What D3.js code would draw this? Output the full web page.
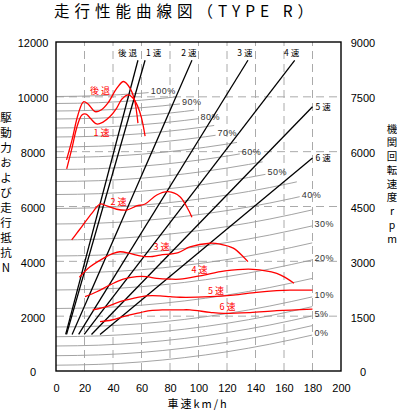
<!DOCTYPE html>
<html>
<head>
<meta charset="utf-8">
<style>
  body { margin: 0; background: #fff; }
  svg { display: block; background: #fff; }
  .tick text { font-family: "Liberation Sans", Arial, sans-serif; font-size: 11px; fill: #000; }
  .jp { font-family: "Noto Sans CJK JP", sans-serif; }
  .pct { font-family: "Liberation Sans", Arial, sans-serif; font-size: 9px; fill: #333; letter-spacing: 0.5px; }
</style>
</head>
<body>
<svg id="svg"></svg>
<script src="https://d3js.org/d3.v7.min.js"></script>
<script>

// axis ticks
const speedTicks = [0, 20, 40, 60, 80, 100, 120, 140, 160, 180, 200];
const forceTicks = [0, 2000, 4000, 6000, 8000, 10000, 12000];
const rpmTicks = [0, 1500, 3000, 4500, 6000, 7500, 9000];

// grade (running resistance) lines, N at 0 km/h and where each one stops
const grades = [0, 2.5, 5, 7.5, 10, 15, 20, 25, 30, 35, 40, 45, 50, 55, 60, 65, 70, 75, 80, 85, 90, 95, 100];
const gradeStartN = [212, 558, 912, 1250, 1605, 2280, 2955, 3575, 4195, 4778, 5362, 5927, 6437, 6912, 7350, 7787, 8170, 8535, 8863, 9192, 9483, 9757, 10012];
const gradeEndSpeed = [180, 180, 180, 180, 180, 180, 180, 180, 180, 180, 171, 169, 147, 145, 129, 127, 112, 111, 100, 97, 87, 85, 65];
const labeledGrades = [0, 5, 10, 20, 30, 40, 50, 60, 70, 80, 90, 100];
// added air drag
const dragSpeed = [0, 30, 60, 90, 120, 150, 180];
const dragN = [0, 30, 120, 275, 490, 765, 1100];

// gear lines: speed / engine rpm at both ends
const gears = ["後退", "1速", "2速", "3速", "4速", "5速", "6速"];
const gearLowSpeed = [6.8, 7.4, 11.3, 15.9, 19.8, 24.9, 30.9];
const gearLowRpm = [1000, 1000, 1000, 1000, 1000, 1000, 1000];
const gearTopSpeed = [57.5, 62.5, 95.4, 134.7, 167.5, 180, 180];
const gearTopRpm = [8500, 8500, 8500, 8500, 8500, 7230, 5830];

// driving force curves
const revSpeed = [7.4, 11.2, 15.4, 19.3, 22.5, 27.4, 31.6, 36.5, 42.6, 47.4, 51.9, 55.1, 57.5];
const revForce = [7700, 8420, 9340, 9820, 9740, 9460, 9520, 9780, 10310, 10560, 10320, 9880, 9040];
const g1Speed = [7.5, 11.2, 14.7, 18.2, 21.1, 23.9, 28.6, 33.0, 37.9, 42.6, 46.3, 50.7, 54.0, 57.2, 60.0, 62.5];
const g1Force = [7370, 8130, 8900, 9340, 9370, 9230, 9010, 9080, 9280, 9590, 9920, 10070, 9960, 9670, 9230, 8570];
const g2Speed = [11.0, 14.5, 18.0, 25.1, 30.9, 35.6, 42.6, 49.6, 56.6, 62.5, 70.7, 78.8, 87.0, 91.7, 95.4];
const g2Force = [4780, 5020, 5260, 5750, 6090, 6020, 5900, 5870, 6020, 6090, 6420, 6540, 6360, 5990, 5610];
const g3Speed = [16.4, 23.9, 33.2, 40.2, 44.9, 51.9, 58.9, 66.0, 73.0, 85.8, 94.0, 108.1, 115.1, 124.4, 131.4, 134.7];
const g3Force = [3420, 3800, 4110, 4290, 4350, 4290, 4200, 4170, 4230, 4320, 4530, 4660, 4630, 4480, 4170, 3990];
const g4Speed = [20.4, 28.6, 37.9, 47.2, 56.6, 63.6, 70.7, 80.0, 87.0, 101.1, 118.6, 138.2, 154.9, 161.9, 167.0];
const g4Force = [2710, 2890, 3140, 3350, 3440, 3440, 3380, 3350, 3350, 3470, 3650, 3710, 3560, 3380, 3200];
const g5Speed = [25.8, 35.6, 44.9, 54.2, 63.6, 73.0, 80.0, 87.0, 108.1, 124.4, 140.8, 154.9, 164.2, 180];
const g5Force = [2230, 2350, 2530, 2650, 2740, 2740, 2710, 2690, 2710, 2770, 2870, 2930, 2950, 2950];
const g6Speed = [30.9, 39.1, 47.2, 56.6, 66.0, 75.3, 87.0, 94.0, 108.1, 117.4, 136.1, 154.9, 180];
const g6Force = [1800, 1860, 1980, 2100, 2200, 2230, 2230, 2230, 2140, 2100, 2130, 2200, 2260];

const curveSpeeds = [revSpeed, g1Speed, g2Speed, g3Speed, g4Speed, g5Speed, g6Speed];
const curveForces = [revForce, g1Force, g2Force, g3Force, g4Force, g5Force, g6Force];
// red label anchors (km/h, N)
const curveLabelSpeed = [31.6, 32.6, 44.6, 74.7, 101.4, 113, 121];
const curveLabelForce = [10220, 8680, 6160, 4520, 3680, 2930, 2340];

const width = 397;
const height = 411;
const marginLeft = 56;
const marginRight = 56;
const marginTop = 42;
const marginBottom = 40;

const svg = d3.select("#svg")
    .attr("width", width)
    .attr("height", height);

const defs = svg.append("defs");

const x = d3.scaleLinear().domain([0, 200]).range([marginLeft, width - marginRight]);
const y = d3.scaleLinear().domain([0, 12000]).range([height - marginBottom, marginTop]);
const yRpm = d3.scaleLinear().domain([0, 9000]).range([height - marginBottom, marginTop]);

// dashed grid
svg.append("g")
  .selectAll("line")
  .data(speedTicks.slice(1, -1))
  .join("line")
    .attr("x1", d => x(d)).attr("x2", d => x(d))
    .attr("y1", y(0)).attr("y2", y(12000))
    .attr("stroke", "#aaa")
    .attr("stroke-dasharray", "8,5");

svg.append("g")
  .selectAll("line")
  .data(forceTicks.slice(1, -1))
  .join("line")
    .attr("x1", x(0)).attr("x2", x(200))
    .attr("y1", d => y(d)).attr("y2", d => y(d))
    .attr("stroke", "#aaa")
    .attr("stroke-dasharray", "8,5");

// grade lines
const dragAt = d3.scaleLinear().domain(dragSpeed).range(dragN);
const gradeLine = d3.line()
    .x(d => x(d[0]))
    .y(d => y(d[1]))
    .curve(d3.curveMonotoneX);

const gradeG = svg.append("g");
grades.forEach(function(g, i) {
  const id = "gclip" + i;
  defs.append("clipPath").attr("id", id)
    .append("rect")
      .attr("x", x(0))
      .attr("y", 0)
      .attr("width", x(gradeEndSpeed[i]) - x(0))
      .attr("height", height);

  gradeG.append("path")
    .datum(dragSpeed.map((v, j) => [v, gradeStartN[i] + dragN[j]]))
    .attr("fill", "none")
    .attr("stroke", "#999")
    .attr("stroke-width", 0.9)
    .attr("clip-path", `url(#${id})`)
    .attr("d", gradeLine);

  if (labeledGrades.includes(g)) {
    gradeG.append("text")
      .attr("class", "pct")
      .attr("x", x(gradeEndSpeed[i]) + 2)
      .attr("y", y(gradeStartN[i] + dragAt(gradeEndSpeed[i])) - 2)
      .attr("dy", "0.35em")
      .text(g + "%");
  }
});

// gear lines
const gearG = svg.append("g");
gears.forEach(function(name, i) {
  gearG.append("line")
    .attr("x1", x(gearLowSpeed[i])).attr("y1", yRpm(gearLowRpm[i]))
    .attr("x2", x(gearTopSpeed[i])).attr("y2", yRpm(gearTopRpm[i]))
    .attr("stroke", "#000")
    .attr("stroke-width", 1.3);

  const t = gearG.append("text")
    .attr("class", "jp")
    .style("font-size", "8.5px")
    .style("letter-spacing", "2px")
    .text(name);
  if (gearTopSpeed[i] >= 180) {
    t.attr("x", x(gearTopSpeed[i]) + 3).attr("y", yRpm(gearTopRpm[i])).attr("dy", "0.35em");
  } else {
    const anchor = i === 0 ? "end" : (i === 1 ? "start" : "middle");
    const dx = i === 0 ? 1 : (i === 1 ? 1 : -2);
    t.attr("x", x(gearTopSpeed[i]) + dx).attr("y", yRpm(gearTopRpm[i]) - 7)
      .attr("dy", "0.35em").attr("text-anchor", anchor);
  }
});

// driving force curves
const forceLine = d3.line()
    .x(d => x(d[0]))
    .y(d => y(d[1]))
    .curve(d3.curveCatmullRom.alpha(0.5));

const redG = svg.append("g");
curveSpeeds.forEach(function(sp, i) {
  redG.append("path")
    .datum(sp.map((v, j) => [v, curveForces[i][j]]))
    .attr("fill", "none")
    .attr("stroke", "#f00")
    .attr("stroke-width", 1.3)
    .attr("d", forceLine);

  redG.append("text")
    .attr("class", "jp")
    .attr("x", x(curveLabelSpeed[i]))
    .attr("y", y(curveLabelForce[i]))
    .attr("dy", "0.35em")
    .attr("text-anchor", "middle")
    .attr("fill", "#f00")
    .style("font-size", "9px")
    .style("letter-spacing", "2px")
    .text(gears[i]);
});

// axes
svg.append("g")
    .attr("transform", `translate(0, ${y(0)})`)
    .call(d3.axisBottom(x).tickValues(speedTicks).tickSize(0).tickPadding(13))
    .call(g => g.select(".domain").remove());

svg.append("g")
    .attr("transform", `translate(${x(0)}, 0)`)
    .call(d3.axisLeft(y).tickValues(forceTicks).tickSize(0).tickFormat(d3.format("d")))
    .call(g => g.select(".domain").remove())
    .call(g => g.selectAll("text").attr("x", 33 - marginLeft).attr("text-anchor", "middle").attr("dy", "0.45em"));

svg.append("g")
    .attr("transform", `translate(${x(200)}, 0)`)
    .call(d3.axisRight(yRpm).tickValues(rpmTicks).tickSize(0).tickFormat(d3.format("d")))
    .call(g => g.select(".domain").remove())
    .call(g => g.selectAll("text").attr("x", 22).attr("text-anchor", "middle").attr("dy", "0.45em"));

// frame
svg.append("rect")
    .attr("x", x(0)).attr("y", y(12000))
    .attr("width", x(200) - x(0)).attr("height", y(0) - y(12000))
    .attr("fill", "none")
    .attr("stroke", "#000")
    .attr("stroke-width", 1.4);

// titles
svg.append("text")
    .attr("class", "jp")
    .attr("x", 54).attr("y", 17)
    .style("font-size", "15.5px")
    .style("letter-spacing", "5px")
    .text("走行性能曲線図（TYPE R）");

svg.append("text")
    .attr("class", "jp")
    .attr("x", 167.5).attr("y", 404.5)
    .attr("dy", "0.35em")
    .style("font-size", "11px")
    .style("letter-spacing", "2px")
    .text("車速km/h");

Array.from("駆動力および走行抵抗N").forEach(function(c, i) {
  svg.append("text")
    .attr("class", "jp")
    .attr("x", 6).attr("y", 118 + i * 15)
    .attr("dy", "0.35em")
    .attr("text-anchor", "middle")
    .style("font-size", "11.5px")
    .text(c);
});

Array.from("機関回転速度rpm").forEach(function(c, i) {
  svg.append("text")
    .attr("class", "jp")
    .attr("x", 392).attr("y", 129 + i * 13.75)
    .attr("dy", "0.35em")
    .attr("text-anchor", "middle")
    .style("font-size", "10.5px")
    .text(c);
});

</script>
</body>
</html>
